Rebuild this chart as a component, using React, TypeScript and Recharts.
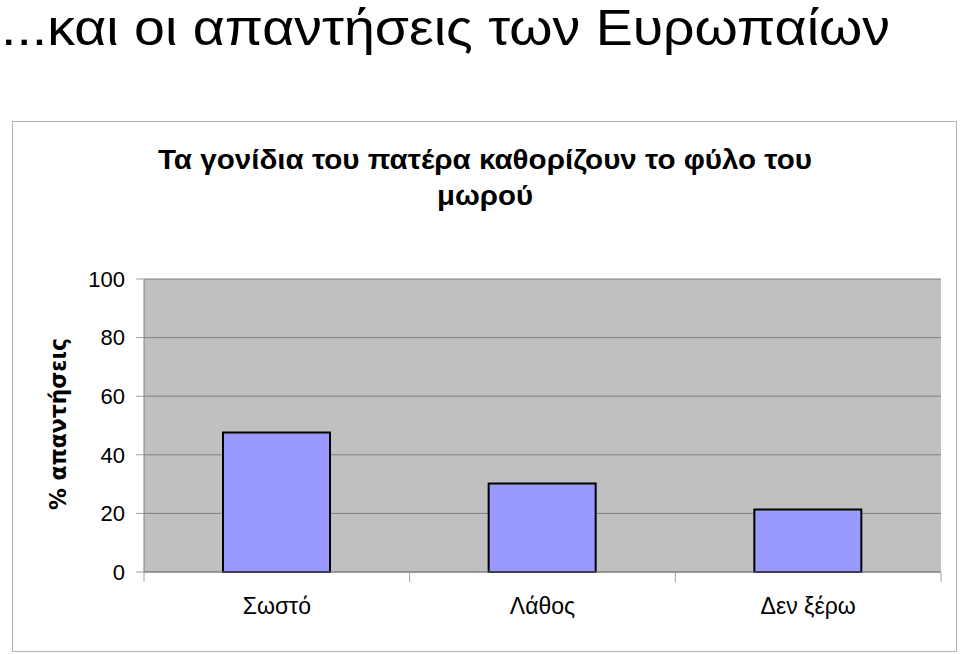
import React from 'react';
import { BarChart, Bar, XAxis, YAxis, CartesianGrid } from 'recharts';

// Answers of Europeans (% of respondents)
const categories = ['Σωστό', 'Λάθος', 'Δεν ξέρω'];
const percentages = [47.6, 30.2, 21.3];
const yTicks = [0, 20, 40, 60, 80, 100];

const pageTitle = '...και οι απαντήσεις των Ευρωπαίων';
const chartTitle = ['Τα γονίδια του πατέρα καθορίζουν το φύλο του', 'μωρού'];
const yLabel = '% απαντήσεις';

const data = categories.map((name, i) => ({ name, value: percentages[i] }));

const font = '"Liberation Sans", Arial, sans-serif';
const LABEL_GAP = 26;
const EDGE_TICK = 10;

// category label plus tick marks at the category boundaries (Excel style)
function CategoryTick(props: any) {
  const { x, y, payload, index, visibleTicksCount } = props;
  const half = payload && payload.offset ? payload.offset : 0;
  const axisY = y - LABEL_GAP;
  const last = index === visibleTicksCount - 1;
  return (
    <g>
      <line x1={x - half} x2={x - half} y1={axisY} y2={axisY + EDGE_TICK} stroke="#a0a0a0" />
      {last && <line x1={x + half} x2={x + half} y1={axisY} y2={axisY + EDGE_TICK} stroke="#a0a0a0" />}
      <text x={x} y={y} dy="0.71em" textAnchor="middle" fontSize={23} fontFamily={font} fill="#000">
        {payload.value}
      </text>
    </g>
  );
}

export default function App() {
  return (
    <div style={{ position: 'absolute', left: 0, top: 0, width: 960, height: 654, background: '#fff', fontFamily: font }}>
      <div
        style={{
          position: 'absolute', left: 12, top: 121, width: 945, height: 531,
          border: '1px solid #b4b4b4', boxSizing: 'border-box',
        }}
      />
      <div style={{ position: 'absolute', left: 12, top: 121 }}>
        <BarChart width={945} height={531} data={data} margin={{ top: 158, right: 16, bottom: 0, left: 0 }}>
          <CartesianGrid
            yAxisId="left"
            vertical={false}
            stroke="#808080"
            fill="#c0c0c0"
            fillOpacity={1}
          />
          <XAxis
            dataKey="name"
            height={80}
            tickLine={false}
            tickSize={0}
            tickMargin={LABEL_GAP}
            axisLine={{ stroke: '#808080' }}
            tick={<CategoryTick />}
          />
          <YAxis
            yAxisId="left"
            width={132}
            domain={[0, 100]}
            ticks={yTicks}
            tickSize={8}
            tickMargin={11}
            axisLine={{ stroke: '#808080' }}
            tickLine={{ stroke: '#a0a0a0' }}
            tick={{ fill: '#000', fontSize: 22, fontFamily: font }}
          />
          <YAxis
            yAxisId="right"
            orientation="right"
            width={0}
            domain={[0, 100]}
            tick={false}
            tickLine={false}
            axisLine={{ stroke: '#707070', strokeWidth: 2 }}
          />
          <Bar
            yAxisId="left"
            dataKey="value"
            barSize={107}
            fill="#9999ff"
            stroke="#000"
            strokeWidth={2}
            isAnimationActive={false}
          />
        </BarChart>
      </div>
      <svg width={960} height={654} style={{ position: 'absolute', left: 0, top: 0, pointerEvents: 'none' }}>
        <text x={1} y={45} fontSize={50} fontFamily={font} fill="#000" textLength={889} lengthAdjust="spacingAndGlyphs">
          {pageTitle}
        </text>
        <text x={485} y={169} fontSize={28} fontWeight="bold" fontFamily={font} textAnchor="middle" textLength={654} lengthAdjust="spacingAndGlyphs">
          {chartTitle[0]}
        </text>
        <text x={485} y={205} fontSize={28} fontWeight="bold" fontFamily={font} textAnchor="middle" textLength={96} lengthAdjust="spacingAndGlyphs">
          {chartTitle[1]}
        </text>
        <text
          x={0}
          y={0}
          transform="translate(58 424) rotate(-90)"
          fontSize={23}
          fontWeight="bold"
          fontFamily='"DejaVu Sans", Verdana, sans-serif'
          textAnchor="middle"
          dominantBaseline="central"
          textLength={172}
          lengthAdjust="spacingAndGlyphs"
        >
          {yLabel}
        </text>
      </svg>
    </div>
  );
}
